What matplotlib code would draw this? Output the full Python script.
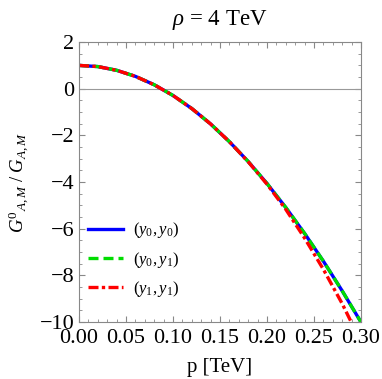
import matplotlib.pyplot as plt
from matplotlib.ticker import MultipleLocator

p = [0.00, 0.02, 0.04, 0.06, 0.08, 0.10, 0.12, 0.14, 0.16, 0.18, 0.20, 0.22, 0.24, 0.26, 0.28, 0.30]
g_y0y0 = [1.00, 0.95, 0.79, 0.53, 0.17, -0.29, -0.85, -1.51, -2.27, -3.12, -4.06, -5.09, -6.20, -7.39, -8.66, -10.00]
g_y0y1 = [1.00, 0.95, 0.79, 0.53, 0.17, -0.29, -0.85, -1.51, -2.27, -3.12, -4.06, -5.09, -6.20, -7.39, -8.66, -10.00]
g_y1y1 = [1.00, 0.95, 0.79, 0.53, 0.17, -0.29, -0.85, -1.51, -2.27, -3.13, -4.09, -5.17, -6.40, -7.74, -9.21, -10.85]

plt.rcParams['font.family'] = ['Liberation Serif', 'DejaVu Serif']
plt.rcParams['mathtext.fontset'] = 'custom'
plt.rcParams['mathtext.rm'] = 'Liberation Serif'
plt.rcParams['mathtext.it'] = 'Liberation Serif:italic'

fig = plt.figure(figsize=(3.82, 3.79), dpi=100)
ax = fig.add_axes([0.207, 0.150, 0.738, 0.739])

ax.axhline(0, color='#999999', lw=0.8)
ax.plot(p, g_y0y0, color='#0000ff', lw=2.4, label=r'$(y_0,y_0)$')
ax.plot(p, g_y0y1, color='#00dd00', lw=2.4, ls=(0, (3, 1.5)), label=r'$(y_0,y_1)$')
ax.plot(p, g_y1y1, color='#ff0000', lw=2.4, ls=(0, (3, 1, 1, 1)), label=r'$(y_1,y_1)$')

ax.set_xlim(0, 0.30)
ax.set_ylim(-10, 2)
ax.xaxis.set_major_locator(MultipleLocator(0.05))
ax.xaxis.set_minor_locator(MultipleLocator(0.01))
ax.yaxis.set_major_locator(MultipleLocator(2))
ax.yaxis.set_minor_locator(MultipleLocator(0.5))
ax.xaxis.set_major_formatter(plt.FormatStrFormatter('%.2f'))
ax.tick_params(which='both', direction='in', top=True, right=True, color='#888888')
ax.tick_params(which='major', length=4, labelsize=16)
ax.tick_params(axis='x', which='major', pad=5)
ax.tick_params(which='minor', length=2)
for s in ax.spines.values():
    s.set_color('#888888')

ax.set_xlabel('p [TeV]', fontsize=15, labelpad=7)
ax.set_ylabel(r'$G^0{}_{A,M}\ /\ G_{A,M}$', fontsize=13.5, labelpad=6)
ax.set_title(r'$\rho$ = 4 TeV', fontsize=16.5, pad=12)
ax.legend(loc='lower left', bbox_to_anchor=(-0.02, 0.03), frameon=False, fontsize=12,
          handlelength=2.1, labelspacing=0.55, handletextpad=0.6)

fig.savefig('out.png', dpi=100)
